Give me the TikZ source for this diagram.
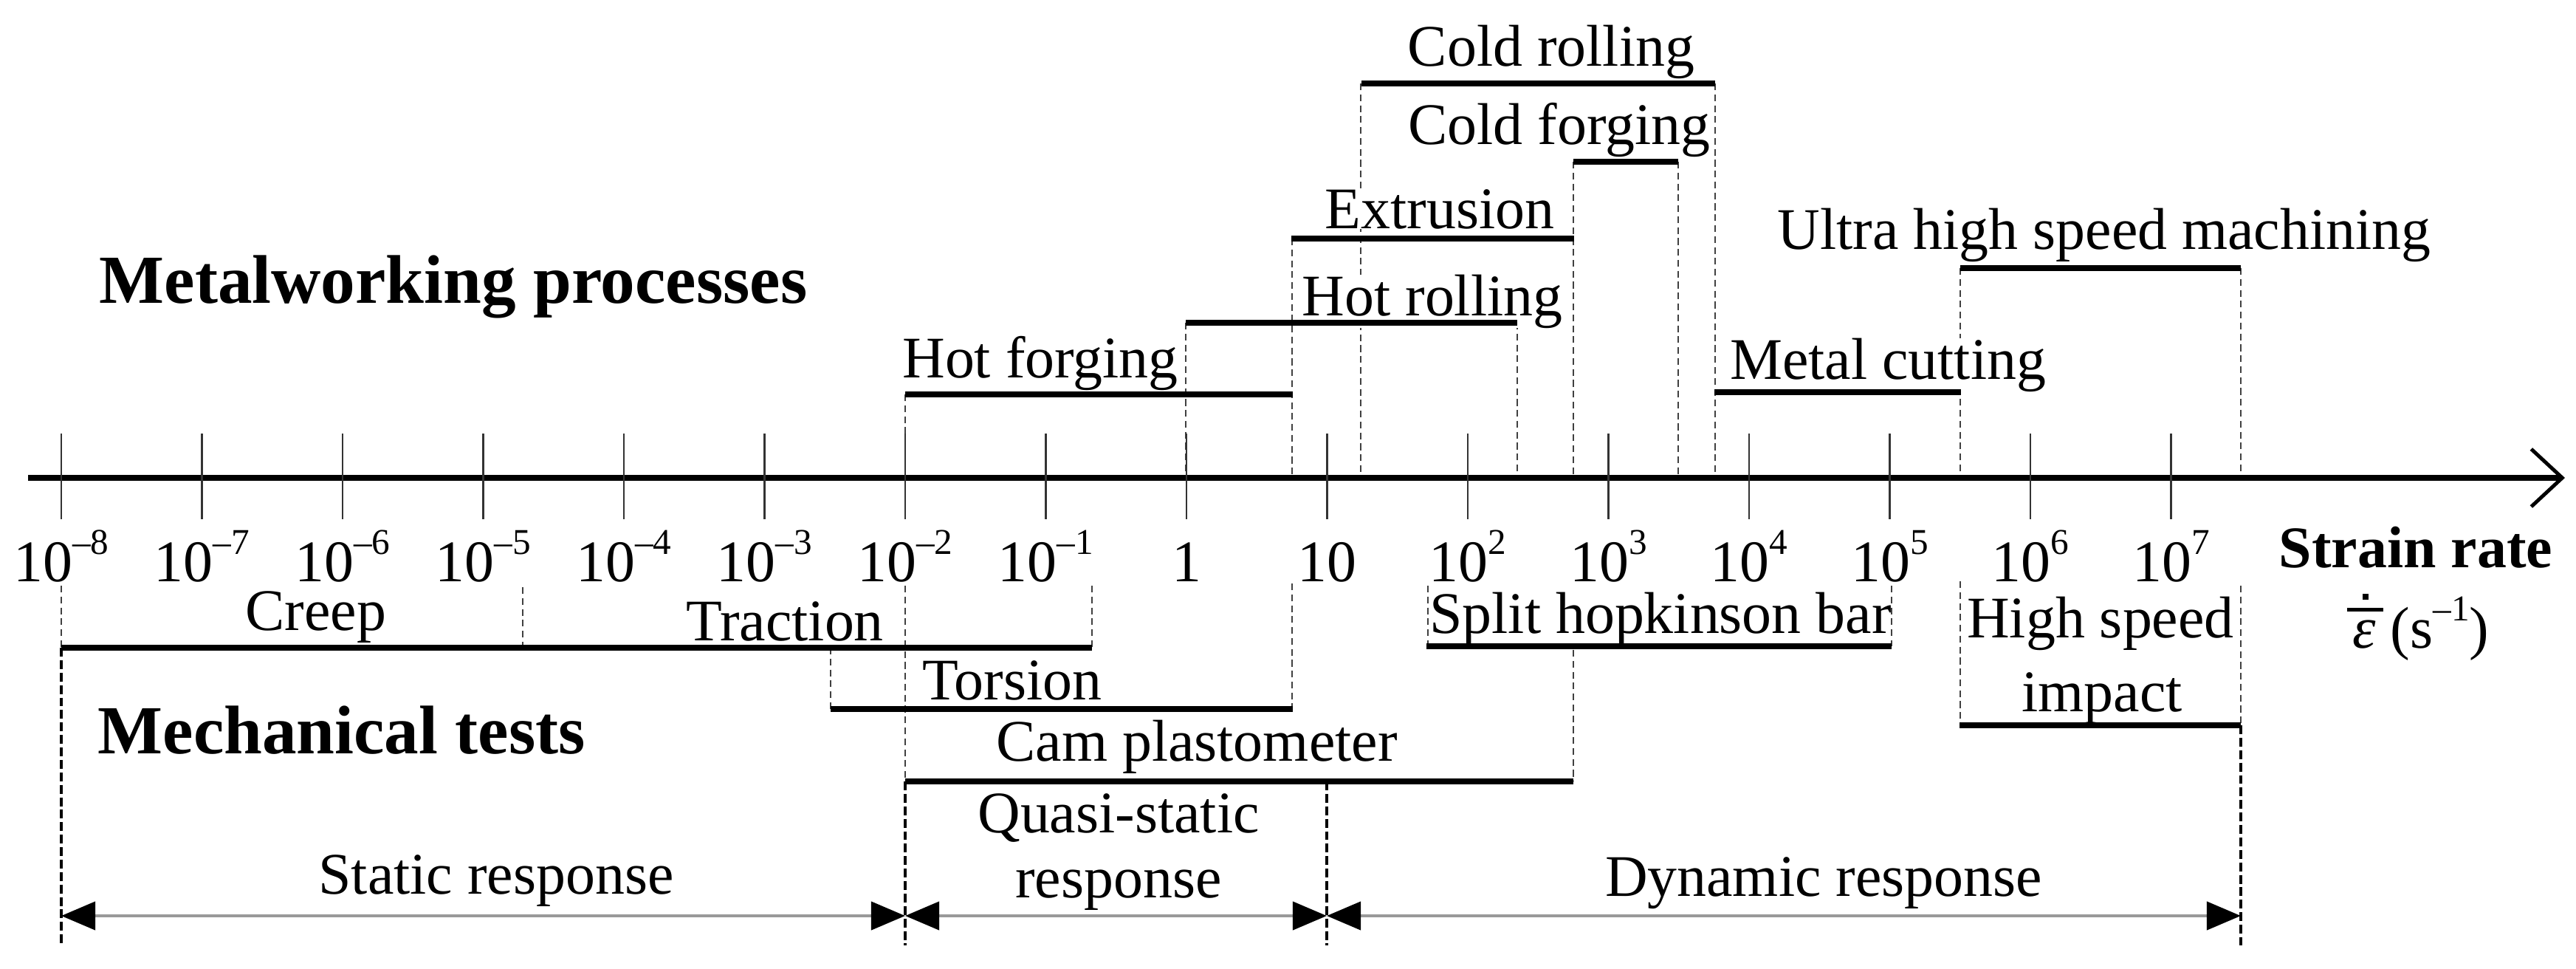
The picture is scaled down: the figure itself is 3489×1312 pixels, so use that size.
\documentclass[tikz,border=0pt]{standalone}
\usepackage{fontspec}
\setmainfont{Liberation Serif}
\usetikzlibrary{arrows.meta}
\newcommand\ex[1]{\raisebox{0.46em}{\fontsize{14}{14}\selectfont #1}}
\newcommand\epsrate{\leavevmode\rlap{\hspace{-0.1em}\raisebox{0.62em}{\rule{0.62em}{0.06em}}}\rlap{\hspace{0.17em}\raisebox{0.82em}{\rule{0.1em}{0.1em}}}\textit{ε}}
\begin{document}
\begin{tikzpicture}[x=0.01cm,y=-0.01cm,
  lbl/.style={font=\fontsize{22.7}{27}\selectfont, inner sep=0pt, anchor=base},
  lblw/.style={lbl, fill=white},
  hdr/.style={font=\fontsize{26.5}{31}\selectfont\bfseries, inner sep=0pt, anchor=base west},
  bar/.style={line width=2.2pt},
  guide/.style={line width=0.55pt, dash pattern=on 2.6pt off 1.6pt, black!75},
  bound/.style={line width=1.3pt, dash pattern=on 3.4pt off 1.4pt},
  tickmark/.style={line width=0.6pt, black!80},
  dim/.style={line width=1.2pt, black!40,
    {Triangle[length=0.46cm,width=0.38cm,black]}-{Triangle[length=0.46cm,width=0.38cm,black]}},
]
\useasboundingbox (0,0) rectangle (3489,1312);

% guide lines above the axis
\foreach \x/\ya/\yb in {1226/534/647, 1606/437/647, 1750/323/647, 1843/113/647,
  2055/437/647, 2131/219/647, 2273/219/647, 2323/113/647, 2655/363/647, 3035/363/647}
  \draw[guide] (\x,\ya) -- (\x,\yb);
% guide lines below the axis
\foreach \x/\ya/\yb in {83/793/877, 708/795/877, 1125/877/960, 1226/793/1058,
  1479/793/877, 1750/790/960, 1934/793/875, 2562/793/875, 2131/880/1058,
  2655/787/982, 3035/793/982}
  \draw[guide] (\x,\ya) -- (\x,\yb);
% response boundaries
\foreach \x/\ya in {83/877, 1226/1058, 1797/1058, 3035/982}
  \draw[bound] (\x,\ya) -- (\x,1280);

% headers
\node[hdr] (hmw) at (134,410) {Metalworking processes};
\node[hdr] (hmt) at (132,1020) {Mechanical tests};

% process labels
\node[lbl]  (lcr) at (2101,89)  {Cold rolling};
\node[lbl]  (lcf) at (2112,195) {Cold forging};
\node[lblw] (lex) at (1950,309) {Extrusion};
\node[lblw] (lhr) at (1940,427) {Hot rolling};
\node[lbl]  (lhf) at (1409,511) {Hot forging};
\node[lbl]  (luh) at (2850,337) {Ultra high speed machining};
\node[lblw] (lmc) at (2557,513) {Metal cutting};

% test labels
\node[lbl] (lcp) at (428,853)  {Creep};
\node[lbl] (ltr) at (1063,867) {Traction};
\node[lbl] (lto) at (1371,947) {Torsion};
\node[lbl] (lcam) at (1621,1030) {Cam plastometer};
\node[lbl] (lsh) at (2249,857) {Split hopkinson bar};
\node[lbl] (lhs1) at (2845,863) {High speed};
\node[lbl] (lhs2) at (2847,963) {impact};

% response labels
\node[lbl] (rs)  at (672,1210)  {Static response};
\node[lbl] (rq1) at (1515,1127) {Quasi-static};
\node[lbl] (rq2) at (1515,1215) {response};
\node[lbl] (rd)  at (2470,1213) {Dynamic response};

% bars
\foreach \y/\a/\b in {113/1844/2323, 219/2131/2273, 323/1749/2132, 437/1606/2055,
  534/1226/1751, 363/2655/3035, 531/2322/2656, 877/83/1479, 960/1125/1751,
  1058/1226/2131, 875/1932/2562, 982/2654/3035}
  \draw[bar] (\a,\y) -- (\b,\y);

% axis
\coordinate (axL) at (38,647);
\coordinate (axR) at (3474,647);
\draw[line width=2.3pt, -{Straight Barb[length=0.42cm,width=0.78cm,line width=1.4pt]}] (axL) -- (axR);

% ticks and labels
\foreach \lab [count=\i from 0] in {{10\ex{–8}},{10\ex{–7}},{10\ex{–6}},{10\ex{–5}},
  {10\ex{–4}},{10\ex{–3}},{10\ex{–2}},{10\ex{–1}},{1},{10},{10\ex{2}},{10\ex{3}},
  {10\ex{4}},{10\ex{5}},{10\ex{6}},{10\ex{7}}} {
  \draw[tickmark] (83+\i*190.5,587) -- (83+\i*190.5,703);
  \node[lbl] (t\i) at (83+\i*190.5,787) {\lab};
}

% axis title
\node[lbl, font=\fontsize{22.7}{27}\selectfont\bfseries] (sr) at (3272,768) {Strain rate};
\node[lbl] (srunit) at (3279,877) {\epsrate{} (s\ex{–1})};

% response dimension arrows
\coordinate (d0) at (83,1240);
\coordinate (d1) at (1226,1240);
\coordinate (d2) at (1797,1240);
\coordinate (d3) at (3035,1240);
\draw[dim] (d0) -- (d1);
\draw[dim] (d1) -- (d2);
\draw[dim] (d2) -- (d3);
\end{tikzpicture}
\end{document}
